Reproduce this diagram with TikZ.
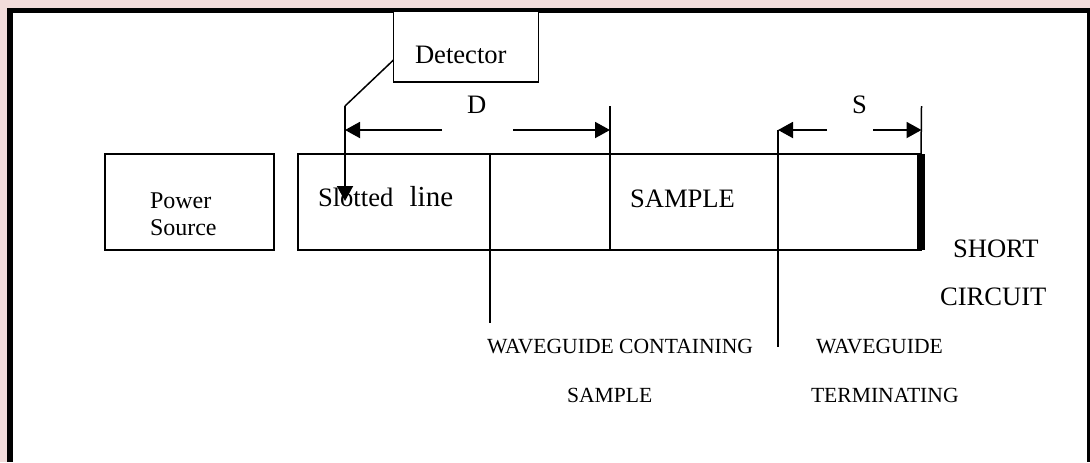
\documentclass[tikz,border=0pt]{standalone}
\usepackage{xcolor}
\usepackage{fontspec}
\setmainfont{Liberation Serif}
\usetikzlibrary{arrows.meta}
\definecolor{pagepink}{RGB}{242,220,219}
\tikzset{
  guidebox/.style={draw,line width=0.75pt,inner sep=0pt,outer sep=0pt,anchor=north west},
  wire/.style={line width=0.75pt},
  dimarrow/.style={line width=0.95pt,-{Triangle[length=7.5pt,width=8pt]}},
  lbl/.style={inner sep=0pt,outer sep=0pt,anchor=base west,font=\fontsize{13.3}{13.3}\selectfont},
  smalllbl/.style={lbl,font=\fontsize{10.8}{10.8}\selectfont},
  tinylbl/.style={lbl,font=\fontsize{12}{12}\selectfont},
}
\begin{document}
\begin{tikzpicture}[x=0.5pt,y=-0.5pt]
\useasboundingbox (0,0) rectangle (1090,462);
\fill [pagepink] (0,0) rectangle (1090,462);
\fill [black] (7,8) rectangle (1090,462);
\fill [white] (12.5,13) rectangle (1087,462);
%Boxes
\node [guidebox,minimum width=84.5pt,minimum height=48pt] (power) at (105,154) {};
\node [guidebox,minimum width=156pt,minimum height=48pt] (slotted) at (298,154) {};
\node [guidebox,minimum width=155.5pt,minimum height=48pt] (sample) at (610,154) {};
\node [guidebox,fill=white,minimum width=72.5pt,minimum height=35.5pt] (detector) at (393.5,11) {};
\draw [line width=3.75pt] (sample.north east) -- (sample.south east);
\draw [wire] (sample.south west) -- (635,250);
%Probe
\coordinate (probetap) at (393.5,60);
\coordinate (probebend) at (345,106);
\coordinate (probetip) at (345,201);
\draw [wire] (probetap) -- (probebend);
\draw [dimarrow] (probebend) -- (probetip);
%Ticks
\coordinate (dright) at (610,106);
\coordinate (dleft) at (345,130);
\coordinate (sleft) at (778,130);
\coordinate (sright) at (921.5,106);
\coordinate (samplefoot) at (490,323);
\coordinate (termfoot) at (778,347);
\draw [wire] (dright) -- (sample.south west);
\draw [wire] (sright) -- (sample.north east);
\draw [wire] (slotted.north west -| samplefoot) -- (samplefoot);
\draw [wire] (sleft) -- (termfoot);
%Dimensions
\draw [dimarrow] (442,130) -- (dleft);
\draw [dimarrow] (513,130) -- (610,130);
\draw [dimarrow] (827,130) -- (sleft);
\draw [dimarrow] (873,130) -- (921.5,130);
%Text
\node [lbl] (detectortext) at (415,63) {Detector};
\node [lbl] (dtext) at (467,113) {D};
\node [lbl] (stext) at (852,113) {S};
\node [tinylbl] (powertext) at (150,208) {Power};
\node [tinylbl] (sourcetext) at (150,235) {Source};
\node [lbl] (slottedtext) at (318,206) {Slotted\ \ \hspace{1.5pt}{\fontsize{14.5}{14.5}\selectfont line}};
\node [lbl] (sampletext) at (630,207) {SAMPLE};
\node [lbl] (shorttext) at (953,257) {SHORT};
\node [lbl] (circuittext) at (940,305) {CIRCUIT};
\node [smalllbl] (containtext) at (487,353) {WAVEGUIDE CONTAINING};
\node [smalllbl] (contsample) at (567,402) {SAMPLE};
\node [smalllbl] (guidetext) at (816,353) {WAVEGUIDE};
\node [smalllbl] (termtext) at (811,402) {TERMINATING};
\end{tikzpicture}
\end{document}
